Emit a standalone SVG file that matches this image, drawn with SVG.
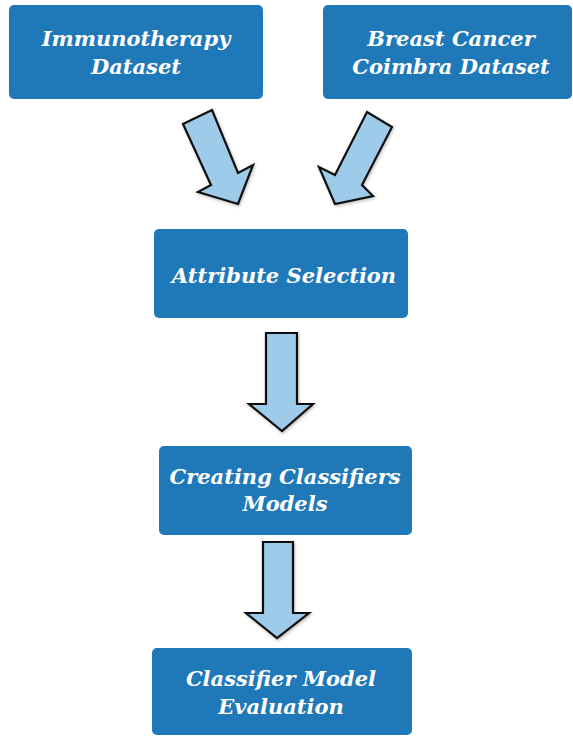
<svg xmlns="http://www.w3.org/2000/svg" width="573" height="736" viewBox="0 0 573 736">
<style>
.box{fill:#1f78b8;}
.t{fill:#ffffff;font-family:"DejaVu Serif","Liberation Serif",serif;font-weight:bold;font-style:italic;font-size:21px;text-anchor:middle;}
.arr{fill:#9dcbe9;stroke:#111111;stroke-width:2.2;stroke-linejoin:miter;}
</style>
<defs>
<filter id="sh" x="-20%" y="-20%" width="140%" height="140%">
<feDropShadow dx="1" dy="1.5" stdDeviation="1.5" flood-color="#000" flood-opacity="0.25"/>
</filter>
</defs>
<rect width="573" height="736" fill="#ffffff"/>
<g id="connectors">
<polygon class="arr" filter="url(#sh)" points="183,124 212,110 238,173 253,165 238,204 198,192 211,185"/>
<polygon class="arr" filter="url(#sh)" points="392,127 367,112 335,175 319,167 335,204 373,196 362,185"/>
<polygon class="arr" filter="url(#sh)" points="266,333 297,333 297,404 313,404 282,431 249,404 266,404"/>
<polygon class="arr" filter="url(#sh)" points="263,542 293,542 293,613 309,613 277,638 246,613 263,613"/>
</g>
<g id="immunotherapy">
<rect class="box" x="9" y="5" width="254" height="94" rx="5"/>
<text class="t" x="136" y="46">Immunotherapy</text>
<text class="t" x="136" y="74">Dataset</text>
</g>
<g id="breast-cancer">
<rect class="box" x="323" y="5" width="249" height="94" rx="5"/>
<text class="t" x="451" y="46">Breast Cancer</text>
<text class="t" x="451" y="74">Coimbra Dataset</text>
</g>
<g id="attribute-selection">
<rect class="box" x="154" y="229" width="254" height="89" rx="5"/>
<text class="t" x="284" y="283">Attribute Selection</text>
</g>
<g id="creating-classifiers">
<rect class="box" x="159" y="446" width="253" height="89" rx="5"/>
<text class="t" x="285" y="484">Creating Classifiers</text>
<text class="t" x="285" y="511">Models</text>
</g>
<g id="evaluation">
<rect class="box" x="152" y="648" width="260" height="87" rx="5"/>
<text class="t" x="281" y="686">Classifier Model</text>
<text class="t" x="281" y="714">Evaluation</text>
</g>
</svg>
